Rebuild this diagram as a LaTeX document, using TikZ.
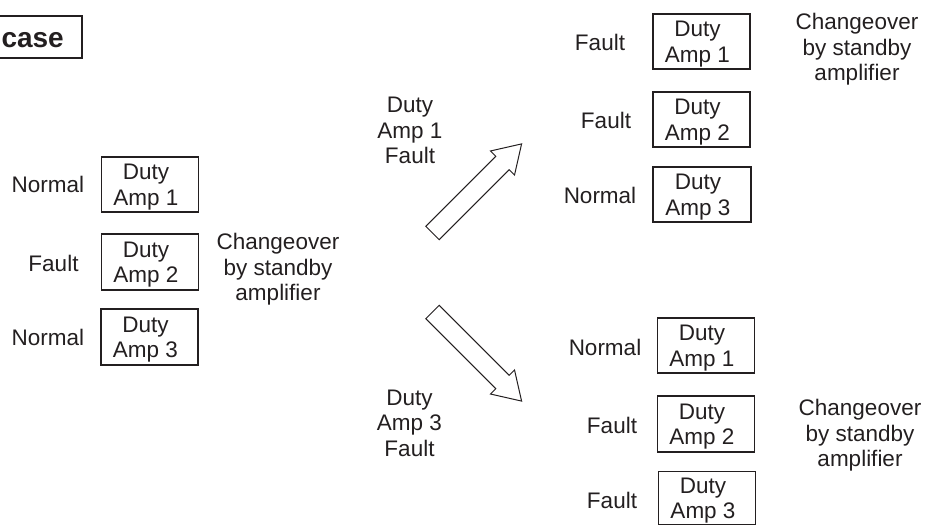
\documentclass[tikz,border=0pt]{standalone}
\usepackage{fontspec}
\setmainfont{Liberation Sans}
\definecolor{ink}{HTML}{231F20}
\begin{document}
\begin{tikzpicture}[x=1pt,y=-1pt,
  every node/.style={text=ink, font=\fontsize{22.5}{25.5}\selectfont, inner sep=0pt},
  ampbox/.style={draw=ink, line width=1.2pt, minimum width=97pt, minimum height=55pt},
  amptext/.style={align=center},
  note/.style={align=center},
  bigarrow/.style={draw=ink, line width=1pt, fill=white, line join=miter}]
\useasboundingbox (0,0) rectangle (935,526);

% title box (cut at the left edge)
\draw[ink, line width=2pt] (-10,16) rectangle (82,58);
\node[anchor=east, font=\fontsize{28}{30}\selectfont\bfseries] (title) at (64,40) {case};

% ---------- left group ----------
\node[ampbox] (L1) at (150,184.5) {};
\node[ampbox, minimum height=56pt] (L2) at (150,262) {};
\node[ampbox, minimum height=56pt] (L3) at (149.5,337) {};
\node[amptext] (L1t) at ([xshift=-4pt,yshift=-2.4pt]L1.center) {Duty\\Amp 1};
\node[amptext] (L2t) at ([xshift=-4pt,yshift=-2.4pt]L2.center) {Duty\\Amp 2};
\node[amptext] (L3t) at ([xshift=-4pt,yshift=-2.4pt]L3.center) {Duty\\Amp 3};
\node (L1s) at (48,184.5) {Normal};
\node (L2s) at (53.5,263) {Fault};
\node (L3s) at (48,337.5) {Normal};
\node[note] (Lc) at (278,269.4) {Changeover\\by standby\\amplifier};

% ---------- arrows ----------
\node[note] (Af1) at (410,130.4) {Duty\\Amp 1\\Fault};
\node[note] (Af3) at (409.5,423) {Duty\\Amp 3\\Fault};
\coordinate (upTail) at (432.5,233);
\coordinate (dnTail) at (432.5,312);
\begin{scope}[shift={(upTail)}, rotate=45]
  \draw[bigarrow] (0,9.5) -- (99,9.5) -- (99,17) -- (126,0) -- (99,-17) -- (99,-9.5) -- (0,-9.5) -- cycle;
\end{scope}
\begin{scope}[shift={(dnTail)}, rotate=-45]
  \draw[bigarrow] (0,9.5) -- (99,9.5) -- (99,17) -- (126,0) -- (99,-17) -- (99,-9.5) -- (0,-9.5) -- cycle;
\end{scope}

% ---------- top right group ----------
\node[ampbox] (T1) at (701.5,41.5) {};
\node[ampbox] (T2) at (701.5,119.5) {};
\node[ampbox, minimum width=98pt] (T3) at (702,194.5) {};
\node[amptext] (T1t) at ([xshift=-4pt,yshift=-2.4pt]T1.center) {Duty\\Amp 1};
\node[amptext] (T2t) at ([xshift=-4pt,yshift=-2.4pt]T2.center) {Duty\\Amp 2};
\node[amptext] (T3t) at ([xshift=-4pt,yshift=-2.4pt]T3.center) {Duty\\Amp 3};
\node (T1s) at (600,42) {Fault};
\node (T2s) at (606,120) {Fault};
\node (T3s) at (600,195) {Normal};
\node[note] (Tc) at (857,49.4) {Changeover\\by standby\\amplifier};

% ---------- bottom right group ----------
\node[ampbox] (B1) at (706,345.5) {};
\node[ampbox, minimum height=56pt] (B2) at (706,424) {};
\node[ampbox, minimum height=53pt] (B3) at (707,498) {};
\node[amptext] (B1t) at ([xshift=-4pt,yshift=-2.4pt]B1.center) {Duty\\Amp 1};
\node[amptext] (B2t) at ([xshift=-4pt,yshift=-2.4pt]B2.center) {Duty\\Amp 2};
\node[amptext] (B3t) at ([xshift=-4pt,yshift=-2.4pt]B3.center) {Duty\\Amp 3};
\node (B1s) at (605,347) {Normal};
\node (B2s) at (612,425) {Fault};
\node (B3s) at (612,500) {Fault};
\node[note] (Bc) at (860,435.4) {Changeover\\by standby\\amplifier};
\end{tikzpicture}
\end{document}
